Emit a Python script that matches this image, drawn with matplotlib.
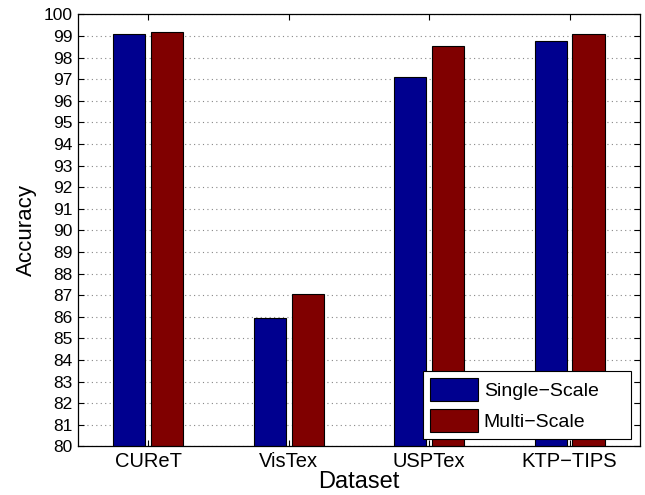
import numpy as np
import matplotlib
matplotlib.use('Agg')
import matplotlib.pyplot as plt

plt.rcParams['font.family'] = ['Liberation Sans', 'DejaVu Sans']

datasets = ['CUReT', 'VisTex', 'USPTex', 'KTP\u2212TIPS']
single_scale = [99.07, 85.94, 97.11, 98.77]
multi_scale = [99.18, 87.05, 98.54, 99.10]
series_names = ['Single\u2212Scale', 'Multi\u2212Scale']
y_ticks = list(range(80, 101))

x = np.arange(1, len(datasets) + 1)
bw = 0.23
off = 0.135

fig = plt.figure(figsize=(6.45, 4.95), dpi=100)
ax = fig.add_axes([0.121, 0.098, 0.871, 0.873])

ax.bar(x - off, single_scale, bw, bottom=0, color='#00008F', edgecolor='black',
       linewidth=0.8, label=series_names[0], zorder=2)
ax.bar(x + off, multi_scale, bw, bottom=0, color='#800000', edgecolor='black',
       linewidth=0.8, label=series_names[1], zorder=2)

ax.set_xlim(0.5, 4.5)
ax.set_ylim(80, 100)
ax.set_yticks(y_ticks)
ax.set_xticks(x)
ax.set_xticklabels(datasets)
ax.tick_params(direction='in', top=True, right=True, length=4, width=0.8, pad=4)
ax.tick_params(axis='x', labelsize=14.5)
ax.tick_params(axis='y', labelsize=12.5)
ax.yaxis.grid(True, linestyle=(0, (1, 3)), color='#888888', linewidth=0.8, zorder=0)
ax.set_axisbelow(True)
for s in ax.spines.values():
    s.set_linewidth(0.9)

ax.set_xlabel('Dataset', fontsize=17, labelpad=0)
ax.set_ylabel('Accuracy', fontsize=16, labelpad=5)

leg = ax.legend(loc='lower left', bbox_to_anchor=(0.614, 0.018, 0.37, 0.16),
                mode='expand', fontsize=14, fancybox=False, framealpha=1,
                edgecolor='black', handlelength=2.47, handleheight=1.45,
                borderaxespad=0, labelspacing=0.38, handletextpad=0.3,
                borderpad=0.36)
leg.get_frame().set_linewidth(0.8)

fig.savefig('out.png', dpi=100)
